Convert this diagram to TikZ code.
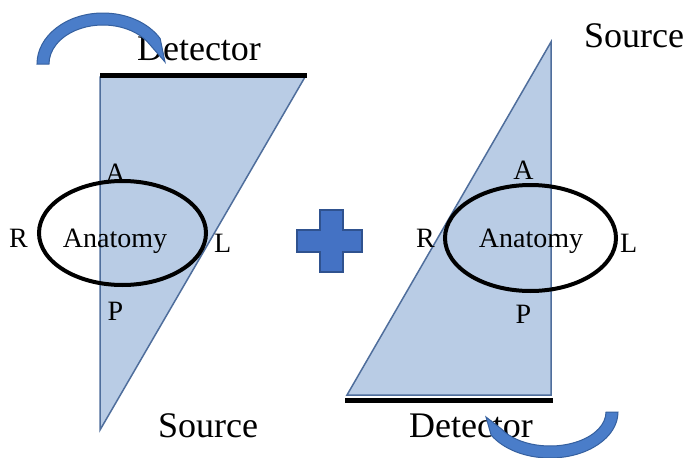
\documentclass[tikz,border=0pt]{standalone}
\usepackage{fontspec}
\setmainfont{Liberation Serif}
\usetikzlibrary{positioning,shapes.geometric}
\definecolor{beamfill}{HTML}{B9CCE5}
\definecolor{beamedge}{HTML}{4F6E9C}
\definecolor{rotblue}{HTML}{4A7DC9}
\definecolor{rotedge}{HTML}{35609F}
\definecolor{plusblue}{HTML}{4472C4}
\definecolor{plusedge}{HTML}{2F528F}
\tikzset{
  beam/.style={fill=beamfill, draw=beamedge, line width=1.5pt, line join=miter},
  detbar/.style={draw=black, line width=5pt},
  organ/.style={ellipse, draw=black, line width=4pt, inner sep=0pt},
  bigtext/.style={font=\fontsize{36}{40}\selectfont, inner sep=0pt, anchor=base},
  dirlabel/.style={font=\fontsize{28}{32}\selectfont, inner sep=0pt},
  rotarrow/.style={fill=rotblue, draw=rotedge, line width=1pt},
  plussign/.style={fill=plusblue, draw=plusedge, line width=1.2pt}
}

\begin{document}
\begin{tikzpicture}[x=1pt, y=-1pt]
\fill[white] (0,0) rectangle (689,458);
\useasboundingbox (0,0) rectangle (689,458);

% left view: detector on top, source below
\coordinate (lbtl) at (100,77);
\coordinate (lbtr) at (305,77);
\coordinate (lsrc) at (100,430);
\coordinate (ldl) at (100,75);
\coordinate (ldr) at (307,75);
\draw[beam] (lbtl) -- (lbtr) -- (lsrc) -- cycle;
\draw[detbar] (ldl) -- (ldr);
\node[organ, minimum width=167pt, minimum height=104pt] (lell) at (122.5,233) {};
\node[dirlabel] (lanat) at (115,241) {Anatomy};
\node[dirlabel, above=-4pt of lell.north, xshift=-7pt] (la) {A};
\node[dirlabel, below=15pt of lell.south, xshift=-7pt] (lp) {P};
\node[dirlabel, left=9pt of lell.west, yshift=-5pt] (lr) {R};
\node[dirlabel, right=6pt of lell.east, yshift=-10pt] (ll) {L};
\node[bigtext] (ldet) at (199,60) {Detector};
\node[bigtext] (lsrctxt) at (208,437) {Source};

% right view: source on top, detector below
\coordinate (rsrc) at (551,42);
\coordinate (rbbr) at (551,395);
\coordinate (rbbl) at (347,395);
\coordinate (rdl) at (345,400);
\coordinate (rdr) at (553,400);
\draw[beam] (rsrc) -- (rbbr) -- (rbbl) -- cycle;
\draw[detbar] (rdl) -- (rdr);
\node[organ, minimum width=171pt, minimum height=106pt] (rell) at (530.5,238) {};
\node[dirlabel] (ranat) at (531,241) {Anatomy};
\node[dirlabel, above=3pt of rell.north, xshift=-7pt] (ra) {A};
\node[dirlabel, below=12pt of rell.south, xshift=-7pt] (rp) {P};
\node[dirlabel, left=8pt of rell.west] (rr) {R};
\node[dirlabel, right=2pt of rell.east, yshift=-5pt] (rl) {L};
\node[bigtext] (rdet) at (471,437) {Detector};
\node[bigtext] (rsrctxt) at (634,47) {Source};

% plus between the views
\draw[plussign] (297,230) -- (320,230) -- (320,210) -- (343,210) -- (343,230)
  -- (362,230) -- (362,252) -- (343,252) -- (343,272) -- (320,272)
  -- (320,252) -- (297,252) -- cycle;

% rotation arrows
\draw[rotarrow, shift={(103,64)}] (180:66 and 51)
  arc[start angle=180, end angle=330, x radius=66, y radius=51] -- (62,-2)
  -- (330:54 and 39) arc[start angle=330, end angle=180, x radius=54, y radius=39] -- cycle;
\draw[rotarrow, shift={(550,412)}] (0:68 and 46)
  arc[start angle=0, end angle=150, x radius=68, y radius=46] -- (-64,5)
  -- (150:56 and 34) arc[start angle=150, end angle=0, x radius=56, y radius=34] -- cycle;
\end{tikzpicture}
\end{document}
